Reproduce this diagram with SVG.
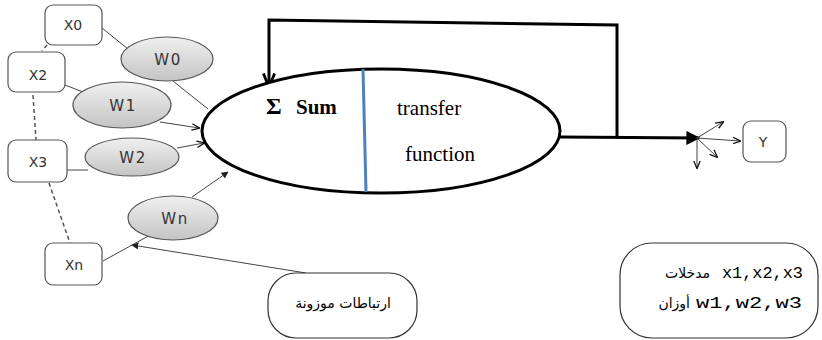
<svg xmlns="http://www.w3.org/2000/svg" width="822" height="340" viewBox="0 0 822 340">
<defs>
<linearGradient id="wg" x1="0" y1="0" x2="0" y2="1">
<stop offset="0" stop-color="#f0f0f0"/>
<stop offset="1" stop-color="#c4c4c4"/>
</linearGradient>
<marker id="ah" viewBox="0 0 10 10" refX="9" refY="5" markerWidth="7" markerHeight="7" markerUnits="userSpaceOnUse" orient="auto">
<path d="M0,0 L10,5 L0,10 z" fill="#222"/>
</marker>
<marker id="ahs" viewBox="0 0 10 10" refX="9" refY="5" markerWidth="8" markerHeight="8" markerUnits="userSpaceOnUse" orient="auto">
<path d="M0,1 L10,5 L0,9" fill="none" stroke="#111" stroke-width="1.6"/>
</marker>
<marker id="ahb" viewBox="0 0 10 10" refX="9" refY="5" markerWidth="14" markerHeight="14" markerUnits="userSpaceOnUse" orient="auto">
<path d="M0,1 L10,5 L0,9" fill="none" stroke="#000" stroke-width="2"/>
</marker>
<marker id="ahbig" viewBox="0 0 10 10" refX="9" refY="5" markerWidth="14" markerHeight="14" markerUnits="userSpaceOnUse" orient="auto">
<path d="M0,0 L10,5 L0,10 z" fill="#000"/>
</marker>
</defs>
<style>
.xb{fill:#fff;stroke:#555;stroke-width:1.2}
.xt{font-family:"DejaVu Sans",sans-serif;font-size:14px;fill:#333;text-anchor:middle}
.we{fill:url(#wg);stroke:#555;stroke-width:1.2}
.wt{font-family:"DejaVu Sans",sans-serif;font-size:15px;fill:#333;text-anchor:middle;letter-spacing:1.5px}
.ln{stroke:#444;stroke-width:1;fill:none}
.dash{stroke:#555;stroke-width:1.5;stroke-dasharray:4,3;fill:none}
.thick{stroke:#000;stroke-width:3;fill:none}
.ser{font-family:"Liberation Serif",serif;fill:#000}
.ar{font-family:"DejaVu Sans",sans-serif;font-size:14px;fill:#000}
.mono{font-family:"Liberation Mono",monospace;font-size:17px;fill:#000}
</style>

<g id="connectors">
<line class="ln" x1="102" y1="28" x2="133" y2="53"/>
<line class="ln" x1="173" y1="81" x2="208" y2="109"/>
<line class="ln" x1="65" y1="85" x2="83" y2="92"/>
<line class="ln" x1="160" y1="122" x2="199" y2="128" marker-end="url(#ahs)"/>
<line class="ln" x1="67" y1="170" x2="88" y2="170"/>
<line class="ln" x1="177" y1="148" x2="204" y2="143" marker-end="url(#ahs)"/>
<line class="ln" x1="103" y1="261" x2="152" y2="234"/>
<line class="ln" x1="192" y1="197" x2="228" y2="172" marker-end="url(#ah)"/>
<line class="ln" x1="306" y1="273" x2="132" y2="245" marker-end="url(#ah)"/>
<line class="dash" x1="47" y1="45" x2="42" y2="51"/>
<line class="dash" x1="33" y1="95" x2="36" y2="140"/>
<line class="dash" x1="49" y1="183" x2="70" y2="243"/>
<polyline class="thick" points="617,137 617,25 269,20 269,86" marker-end="url(#ahb)"/>
<line class="thick" x1="560" y1="137" x2="699" y2="138" stroke-width="3.5" marker-end="url(#ahbig)"/>
<line class="ln" x1="697" y1="138" x2="740" y2="141" marker-end="url(#ahs)"/>
<line class="ln" x1="697" y1="138" x2="723" y2="122" marker-end="url(#ahs)"/>
<line class="ln" x1="697" y1="138" x2="717" y2="157" marker-end="url(#ahs)"/>
<line class="ln" x1="697" y1="138" x2="697" y2="168" marker-end="url(#ahs)"/>
</g>

<g id="X0"><rect class="xb" x="45" y="5" width="57" height="40" rx="8"/><text class="xt" x="73" y="30">X0</text></g>
<g id="X2"><rect class="xb" x="8" y="52" width="57" height="40" rx="8"/><text class="xt" x="38" y="80">X2</text></g>
<g id="X3"><rect class="xb" x="8" y="140" width="59" height="42" rx="8"/><text class="xt" x="38" y="167">X3</text></g>
<g id="Xn"><rect class="xb" x="45" y="243" width="57" height="42" rx="8"/><text class="xt" x="74" y="270">Xn</text></g>
<g id="Y"><rect class="xb" x="743" y="121" width="43" height="41" rx="8"/><text class="xt" x="763" y="147">Y</text></g>

<g id="W0"><ellipse class="we" cx="167" cy="59" rx="46" ry="22"/><text class="wt" x="168" y="65">W0</text></g>
<g id="W1"><ellipse class="we" cx="122" cy="105" rx="49" ry="23"/><text class="wt" x="123" y="111">W1</text></g>
<g id="W2"><ellipse class="we" cx="132" cy="157" rx="47" ry="19"/><text class="wt" x="133" y="163">W2</text></g>
<g id="Wn"><ellipse class="we" cx="173" cy="218" rx="45" ry="22"/><text class="wt" x="175" y="224">Wn</text></g>

<g id="neuron">
<ellipse cx="381" cy="131" rx="179" ry="62" fill="#fff" stroke="#000" stroke-width="3"/>
<line x1="363" y1="69" x2="366" y2="192" stroke="#4f81bd" stroke-width="3"/>
<text class="ser" x="266" y="114" font-size="24" font-weight="bold">Σ</text>
<text class="ser" x="296" y="114" font-size="21" font-weight="bold">Sum</text>
<text class="ser" x="397" y="115" font-size="21">transfer</text>
<text class="ser" x="405" y="161" font-size="21">function</text>
</g>

<g id="weights-label">
<rect x="268" y="273" width="149" height="65" rx="28" fill="#fff" stroke="#333" stroke-width="1.2"/>
<text class="ar" x="343" y="308" text-anchor="middle" font-size="15">ارتباطات موزونة</text>
</g>

<g id="legend">
<rect x="620" y="243" width="198" height="95" rx="32" fill="#fff" stroke="#333" stroke-width="1.2"/>
<text class="mono" x="722" y="278" textLength="81" lengthAdjust="spacingAndGlyphs">x1,x2,x3</text>
<text class="ar" x="710" y="278" text-anchor="end">مدخلات</text>
<text class="mono" x="696" y="308" textLength="106" lengthAdjust="spacingAndGlyphs">w1,w2,w3</text>
<text class="ar" x="690" y="308" text-anchor="end">أوزان</text>
</g>
</svg>
